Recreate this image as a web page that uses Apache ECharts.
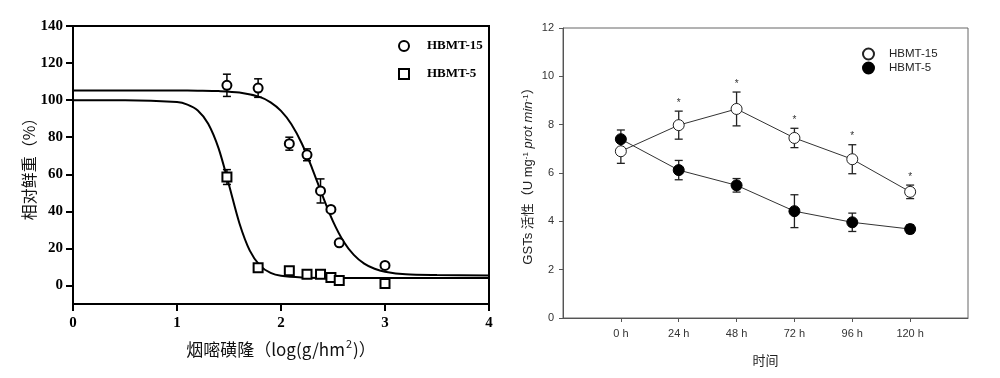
<!DOCTYPE html>
<html>
<head>
<meta charset="utf-8">
<script src="https://cdn.jsdelivr.net/npm/echarts@6/dist/echarts.min.js"></script>
<style>
html,body{margin:0;padding:0;background:#fff;}
#c{width:1000px;height:378px;}
</style>
</head>
<body>
<div id="c"></div>
<script>
// ---------- Left panel data (dose-response) ----------
const doseX = [1.48, 1.78, 2.08, 2.25, 2.38, 2.48, 2.56, 3.0];
const hbmt15Weight = [108, 106.5, 76.5, 70.5, 51, 41, 23, 10.8];
const hbmt15WeightErr = [6, 5, 3.5, 3.2, 6.5, 0, 0, 0];
const hbmt5Weight = [58.5, 9.5, 8, 6, 6, 4.3, 2.7, 1];
const hbmt5WeightErr = [4, 0, 0, 0, 0, 0, 0, 0];
// fitted curves
const curve15X = [0, 0.5, 1.0, 1.2, 1.4, 1.6, 1.8, 1.9, 2.0, 2.1, 2.2, 2.3, 2.4, 2.5, 2.6, 2.7, 2.8, 2.9, 3.0, 3.2, 3.5, 4.0];
const curve15Y = [105.2, 105.2, 105.2, 105.1, 104.9, 104.1, 101.6, 98.8, 94.2, 87.0, 76.6, 63.1, 48.3, 34.6, 23.9, 16.5, 11.8, 9.0, 7.4, 6.0, 5.6, 5.4];
const curve5X = [0, 0.5, 1.0, 1.1, 1.2, 1.3, 1.4, 1.5, 1.6, 1.7, 1.8, 1.9, 2.0, 2.2, 2.5, 3.0, 4.0];
const curve5Y = [100, 100, 99, 97.6, 94.4, 87.3, 74.0, 54.2, 33.6, 18.8, 10.6, 6.8, 5.2, 4.3, 4.05, 4.0, 4.0];
const leftXTicks = [0, 1, 2, 3, 4];
const leftYTicks = [0, 20, 40, 60, 80, 100, 120, 140];

// ---------- Right panel data (GSTs activity) ----------
const hours = [0, 24, 48, 72, 96, 120];
const hbmt15GST = [6.9, 7.98, 8.65, 7.45, 6.57, 5.22];
const hbmt15GSTErr = [0.5, 0.58, 0.7, 0.4, 0.6, 0.28];
const hbmt5GST = [7.4, 6.12, 5.49, 4.42, 3.96, 3.68];
const hbmt5GSTErr = [0.38, 0.4, 0.28, 0.68, 0.38, 0.18];
const signif = ['', '*', '*', '*', '*', '*'];
const rightXTicks = [0, 24, 48, 72, 96, 120];

const serif = '"Liberation Serif","Times New Roman",serif';
const sans = '"Liberation Sans",Arial,"Noto Sans CJK SC",sans-serif';
const cjk = '"Noto Sans CJK SC","Liberation Sans",sans-serif';

function zip3(xs, ys, es) { return xs.map((x, i) => [x, ys[i], es[i]]); }
function zip2(xs, ys) { return xs.map((x, i) => [x, ys[i]]); }

function errBar(color, lw, half) {
  return function (params, api) {
    const x = api.value(0), y = api.value(1), e = api.value(2);
    if (!e) return null;
    const t = api.coord([x, y + e]), b = api.coord([x, y - e]);
    const st = { stroke: color, lineWidth: lw };
    return {
      type: 'group', children: [
        { type: 'line', shape: { x1: t[0], y1: t[1], x2: b[0], y2: b[1] }, style: st },
        { type: 'line', shape: { x1: t[0] - half, y1: t[1], x2: t[0] + half, y2: t[1] }, style: st },
        { type: 'line', shape: { x1: b[0] - half, y1: b[1], x2: b[0] + half, y2: b[1] }, style: st }
      ]
    };
  };
}

const chart = echarts.init(document.getElementById('c'), null, { renderer: 'canvas' });
const option = {
  backgroundColor: '#fff',
  animation: false,
  grid: [
    { left: 73, top: 26, width: 416, height: 278, show: true, borderColor: '#000', borderWidth: 2, containLabel: false },
    { left: 563, top: 28, width: 405, height: 290, show: true, borderColor: '#666', borderWidth: 1, containLabel: false }
  ],
  legend: [
    {
      orient: 'vertical', left: 393, top: 33, itemWidth: 10, itemHeight: 10, itemGap: 12,
      data: ['HBMT-15', 'HBMT-5'],
      textStyle: { fontFamily: serif, fontWeight: 'bold', fontSize: 13, color: '#000', lineHeight: 16, padding: [0, 0, 0, 13] }
    },
    {
      orient: 'vertical', left: 857, top: 42, itemWidth: 11, itemHeight: 11, itemGap: 0,
      data: ['HBMT-15 ', 'HBMT-5 '],
      formatter: n => n.trim(),
      textStyle: { fontFamily: sans, fontSize: 11.5, color: '#222', lineHeight: 14, padding: [0, 0, 0, 10] }
    }
  ],
  xAxis: [
    {
      type: 'value', gridIndex: 0, min: 0, max: 4, interval: 1,
      name: '烟嘧磺隆（log(g/hm{sup|2})）', nameLocation: 'middle', nameGap: 34,
      nameTextStyle: {
        fontFamily: cjk, fontSize: 17, color: '#111', lineHeight: 24,
        rich: { sup: { fontFamily: cjk, fontSize: 11, color: '#111', lineHeight: 11, verticalAlign: 'top', padding: [0, 1, 0, 1] } }
      },
      splitLine: { show: false },
      axisLine: { show: true, onZero: false, lineStyle: { color: '#000', width: 2 } },
      axisTick: { show: true, inside: false, length: 7, lineStyle: { color: '#000', width: 2 }, customValues: leftXTicks },
      axisLabel: { fontFamily: serif, fontWeight: 'bold', fontSize: 15, color: '#000', margin: 12, customValues: leftXTicks }
    },
    {
      type: 'value', gridIndex: 1, min: -24, max: 144, interval: 24,
      name: '时间', nameLocation: 'middle', nameGap: 36,
      nameTextStyle: { fontFamily: cjk, fontSize: 13, color: '#222' },
      splitLine: { show: false },
      axisLine: { show: true, onZero: false, lineStyle: { color: '#555', width: 1 } },
      axisTick: { show: true, length: 4, lineStyle: { color: '#555', width: 1 }, customValues: rightXTicks },
      axisLabel: { fontFamily: sans, fontSize: 11, color: '#333', margin: 10, customValues: rightXTicks, formatter: v => v + ' h' }
    }
  ],
  yAxis: [
    {
      type: 'value', gridIndex: 0, min: -10, max: 140,
      name: '相对鲜重（%）', nameLocation: 'middle', nameGap: 30,
      nameTextStyle: { fontFamily: cjk, fontSize: 16, color: '#111' },
      splitLine: { show: false },
      axisLine: { show: true, onZero: false, lineStyle: { color: '#000', width: 2 } },
      axisTick: { show: true, length: 7, lineStyle: { color: '#000', width: 2 }, customValues: leftYTicks },
      axisLabel: { fontFamily: serif, fontWeight: 'bold', fontSize: 15, color: '#000', margin: 10, customValues: leftYTicks }
    },
    {
      type: 'value', gridIndex: 1, min: 0, max: 12, interval: 2,
      name: 'GSTs 活性（U mg{sup|-1}{it| prot min}{sup|-1}）', nameLocation: 'middle', nameGap: 28,
      nameTextStyle: {
        fontFamily: sans, fontSize: 13, color: '#222',
        rich: {
          sup: { fontFamily: sans, fontSize: 8, verticalAlign: 'top', color: '#222' },
          it: { fontFamily: sans, fontSize: 13, fontStyle: 'italic', color: '#222' }
        }
      },
      splitLine: { show: false },
      axisLine: { show: true, onZero: false, lineStyle: { color: '#555', width: 1 } },
      axisTick: { show: true, length: 4, lineStyle: { color: '#555', width: 1 } },
      axisLabel: { fontFamily: sans, fontSize: 11, color: '#333', margin: 9 }
    }
  ],
  series: [
    // ---- left panel ----
    { type: 'line', name: 'curve15', xAxisIndex: 0, yAxisIndex: 0, data: zip2(curve15X, curve15Y), smooth: 0.3, showSymbol: false, symbol: 'none', lineStyle: { color: '#000', width: 2 }, z: 2 },
    { type: 'line', name: 'curve5', xAxisIndex: 0, yAxisIndex: 0, data: zip2(curve5X, curve5Y), smooth: 0.3, showSymbol: false, symbol: 'none', lineStyle: { color: '#000', width: 2 }, z: 2 },
    { type: 'custom', name: 'err15', xAxisIndex: 0, yAxisIndex: 0, data: zip3(doseX, hbmt15Weight, hbmt15WeightErr), renderItem: errBar('#000', 1.5, 4), z: 3 },
    { type: 'custom', name: 'err5', xAxisIndex: 0, yAxisIndex: 0, data: zip3(doseX, hbmt5Weight, hbmt5WeightErr), renderItem: errBar('#000', 1.5, 4), z: 3 },
    { type: 'scatter', name: 'HBMT-15', xAxisIndex: 0, yAxisIndex: 0, data: zip2(doseX, hbmt15Weight), symbol: 'circle', symbolSize: 9, itemStyle: { color: '#fff', borderColor: '#000', borderWidth: 2, opacity: 1 }, z: 4 },
    { type: 'scatter', name: 'HBMT-5', xAxisIndex: 0, yAxisIndex: 0, data: zip2(doseX, hbmt5Weight), symbol: 'rect', symbolSize: 9, itemStyle: { color: '#fff', borderColor: '#000', borderWidth: 2, opacity: 1 }, z: 4 },
    // ---- right panel ----
    { type: 'line', name: 'line15', xAxisIndex: 1, yAxisIndex: 1, data: zip2(hours, hbmt15GST), symbol: 'none', lineStyle: { color: '#333', width: 1 }, z: 2 },
    { type: 'line', name: 'line5', xAxisIndex: 1, yAxisIndex: 1, data: zip2(hours, hbmt5GST), symbol: 'none', lineStyle: { color: '#333', width: 1 }, z: 2 },
    { type: 'custom', name: 'errR15', xAxisIndex: 1, yAxisIndex: 1, data: zip3(hours, hbmt15GST, hbmt15GSTErr), renderItem: errBar('#222', 1.3, 4), z: 3 },
    { type: 'custom', name: 'errR5', xAxisIndex: 1, yAxisIndex: 1, data: zip3(hours, hbmt5GST, hbmt5GSTErr), renderItem: errBar('#222', 1.3, 4), z: 3 },
    { type: 'scatter', name: 'HBMT-15 ', xAxisIndex: 1, yAxisIndex: 1, data: zip2(hours, hbmt15GST), symbol: 'circle', symbolSize: 11, itemStyle: { color: '#fff', borderColor: '#222', borderWidth: 1, opacity: 1 }, z: 4 },
    { type: 'scatter', name: 'HBMT-5 ', xAxisIndex: 1, yAxisIndex: 1, data: zip2(hours, hbmt5GST), symbol: 'circle', symbolSize: 11, itemStyle: { color: '#000', borderColor: '#000', borderWidth: 1, opacity: 1 }, z: 5 },
    {
      type: 'custom', name: 'stars', xAxisIndex: 1, yAxisIndex: 1,
      data: hours.map((h, i) => [h, hbmt15GST[i] + hbmt15GSTErr[i], i]),
      renderItem: function (params, api) {
        const s = signif[api.value(2)];
        if (!s) return null;
        const p = api.coord([api.value(0), api.value(1)]);
        return { type: 'text', x: p[0], y: p[1] - 8, style: { text: s, fontSize: 10, fontFamily: sans, fill: '#333', align: 'center', verticalAlign: 'middle' } };
      },
      z: 6
    }
  ]
};
chart.setOption(option);
</script>
</body>
</html>
